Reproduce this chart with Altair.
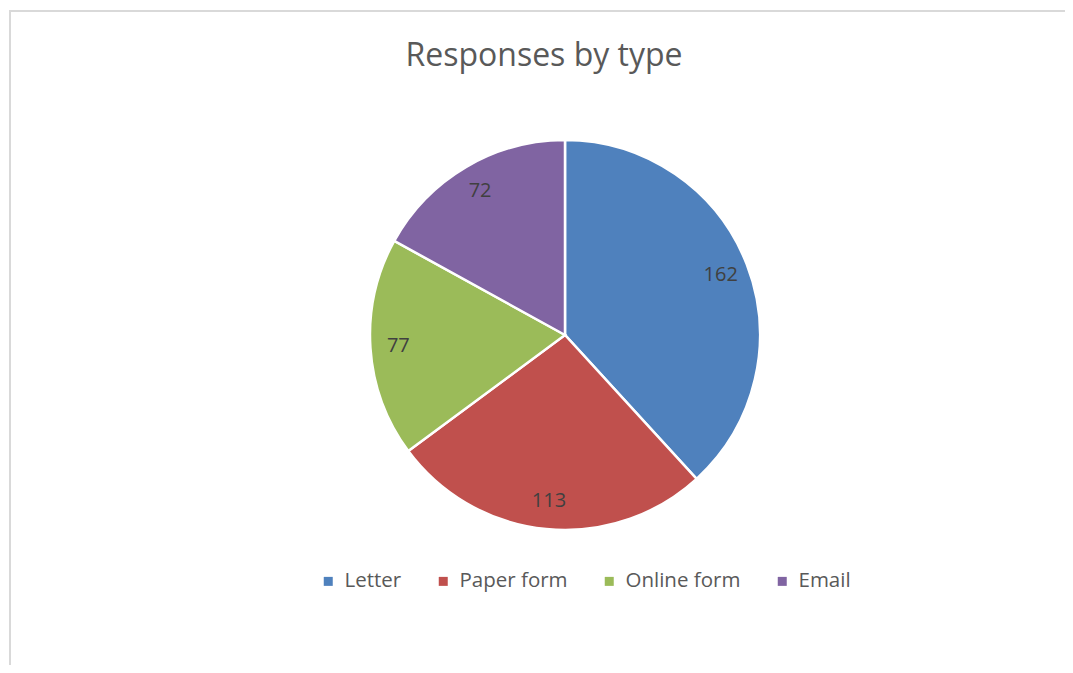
import altair as alt
import pandas as pd

title_text = ["Responses by type"]
categories = ["Letter", "Paper form", "Online form", "Email"]
values = [162, 113, 77, 72]
colors = ["#4F81BD", "#C0504D", "#9BBB59", "#8064A2"]

df = pd.DataFrame({"type": categories, "count": values, "order": list(range(len(categories)))})
tdf = pd.DataFrame({"title": title_text})

W, H = 1057, 655
CX, CY = 557, 325
FONT = "Open Sans"

base = alt.Chart(df).encode(
    theta=alt.Theta("count:Q", stack=True),
    order=alt.Order("order:Q", sort="ascending"),
)

arcs = base.mark_arc(outerRadius=195, stroke="white", strokeWidth=2.5).encode(
    x=alt.value(CX),
    y=alt.value(CY),
    color=alt.Color(
        "type:N",
        scale=alt.Scale(domain=categories, range=colors),
        sort=categories,
        legend=alt.Legend(
            title=None,
            orient="none",
            direction="horizontal",
            legendX=310,
            legendY=561,
            symbolType="square",
            symbolSize=81,
            symbolStrokeWidth=0,
            labelFontSize=20.5,
            labelFont=FONT,
            labelColor="#595959",
            labelOffset=6,
            columnPadding=31,
            padding=0,
        ),
    ),
)

labels = base.mark_text(radius=167, fontSize=20, font=FONT, color="#404040").encode(
    x=alt.value(CX),
    y=alt.value(CY),
    text=alt.Text("count:Q"),
)

title = alt.Chart(tdf).mark_text(
    fontSize=32, font=FONT, color="#595959", align="center", baseline="alphabetic"
).encode(
    x=alt.value(536),
    y=alt.value(56),
    text=alt.Text("title:N"),
)

border_top = alt.Chart(tdf).mark_rule(color="#d9d9d9", strokeWidth=2).encode(
    x=alt.value(1), x2=alt.value(W), y=alt.value(1)
)
border_left = alt.Chart(tdf).mark_rule(color="#d9d9d9", strokeWidth=2).encode(
    x=alt.value(2), y=alt.value(1), y2=alt.value(H)
)

chart = (
    alt.layer(border_top, border_left, arcs, labels, title)
    .properties(
        width=W,
        height=H,
        padding={"left": 0, "top": 2, "right": 0, "bottom": 0},
        autosize=alt.AutoSizeParams(type="none"),
    )
    .configure_view(stroke=None)
)

chart.save("out.html", embed_options={"renderer": "svg", "actions": False})
